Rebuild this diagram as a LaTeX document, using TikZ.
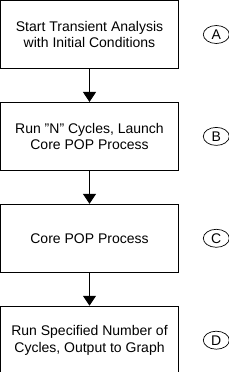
\documentclass[tikz,border=0pt]{standalone}
\usepackage{fontspec}
\setmainfont{Liberation Sans}
\usetikzlibrary{positioning,shapes.geometric,arrows.meta}

\begin{document}
\begin{tikzpicture}[
      node distance=33pt and 24pt,
      every node/.style={font=\fontsize{14}{16.5}\selectfont},
      box/.style={draw,line width=0.9pt,align=center,minimum width=178pt,minimum height=68pt,inner sep=2pt},
      tag/.style={draw,ellipse,line width=0.7pt,minimum width=26pt,minimum height=18pt,inner sep=0pt},
      arrow/.style={-{Triangle[width=13pt,length=10pt]},line width=0.9pt}]
    \useasboundingbox (0,0) rectangle (229pt,-372pt);
    \node[box] (start) at (89.5pt,-34.5pt) {Start Transient Analysis\\with Initial Conditions};
    \node[box,below=of start] (cycles) {Run "N" Cycles, Launch\\Core POP Process};
    \node[box,below=of cycles] (pop) {Core POP Process};
    \node[box,below=of pop] (output) {Run Specified Number of\\Cycles, Output to Graph};
    \node[tag,right=of start] (tagA) {A};
    \node[tag,right=of cycles] (tagB) {B};
    \node[tag,right=of pop] (tagC) {C};
    \node[tag,right=of output] (tagD) {D};
    \draw[arrow] (start)--(cycles);
    \draw[arrow] (cycles)--(pop);
    \draw[arrow] (pop)--(output);
  \end{tikzpicture}
\end{document}
